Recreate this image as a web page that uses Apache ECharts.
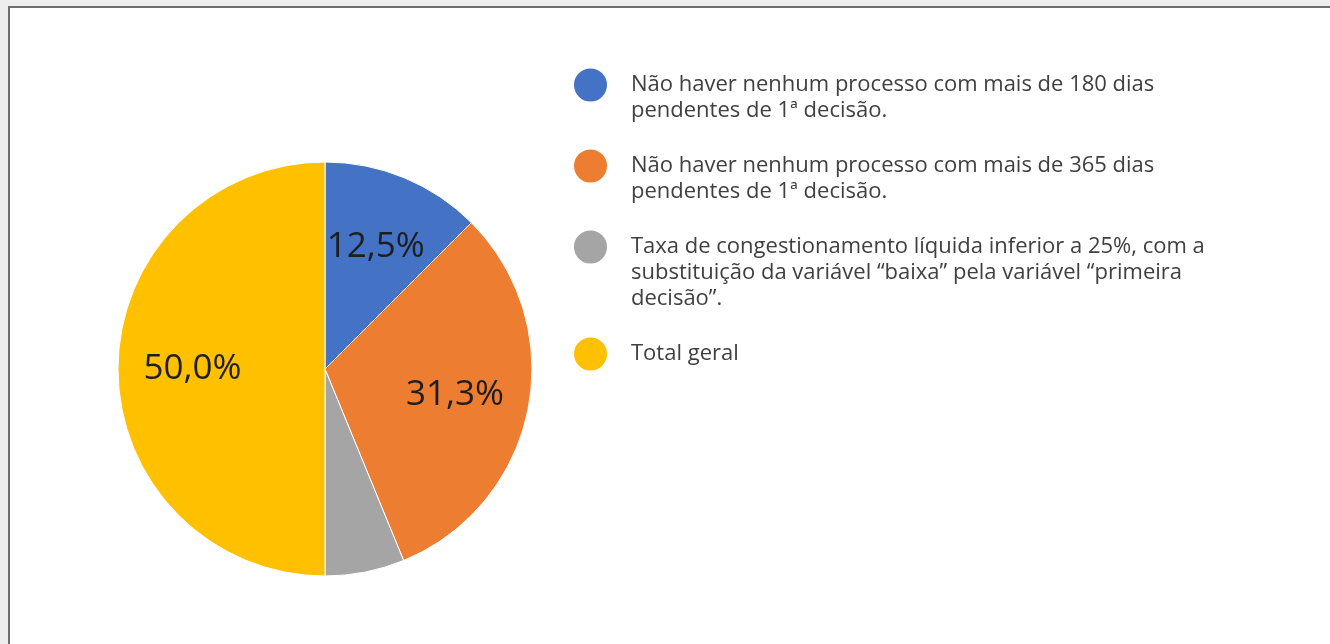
<!DOCTYPE html>
<html>
<head>
<meta charset="utf-8">
<script src="https://cdn.jsdelivr.net/npm/echarts@6/dist/echarts.min.js"></script>
<style>
  html, body { margin: 0; padding: 0; background: #eeeeee; overflow: hidden; }
  #frame { position: absolute; left: 8px; top: 6px; right: 0; bottom: 0; background: #fff;
           border-left: 2px solid #6e6e6e; border-top: 2px solid #6e6e6e; }
  #chart { position: absolute; left: 0; top: 0; width: 1330px; height: 644px; }
</style>
</head>
<body>
<div id="frame"></div>
<div id="chart"></div>
<script>
var chart = echarts.init(document.getElementById('chart'));

// data
const categories = [
  'Não haver nenhum processo com mais de 180 dias\npendentes de 1ª decisão.',
  'Não haver nenhum processo com mais de 365 dias\npendentes de 1ª decisão.',
  'Taxa de congestionamento líquida inferior a 25%, com a\nsubstituição da variável “baixa” pela variável “primeira\ndecisão”.',
  'Total geral'
];
const shares = [12.5, 31.3, 6.2, 50.0];
const showLabel = [true, true, false, true];
const colors = ['#4472C4', '#ED7D31', '#A5A5A5', '#FFC000'];

// blank lines above / below each legend text so the dot sits on its first line
const legendBlank = [[2, 1], [1, 0], [2, 0], [2, 2]];

var fontFam = '"Open Sans", sans-serif';

var sliceData = categories.map(function (name, i) {
  return { name: name, value: shares[i], itemStyle: { color: colors[i] } };
});

var labelData = categories.map(function (name, i) {
  return { name: name, value: shares[i], label: { show: showLabel[i] } };
});

var option = {
  animation: false,
  legend: {
    type: 'plain',
    orient: 'vertical',
    left: 572,
    top: 20,
    padding: 0,
    itemGap: -23,
    itemWidth: 35,
    itemHeight: 35,
    icon: 'circle',
    selectedMode: false,
    formatter: function (name) {
      var b = legendBlank[categories.indexOf(name)];
      return '\n'.repeat(b[0]) + name + '\n'.repeat(b[1]);
    },
    textStyle: {
      fontFamily: fontFam, fontSize: 22, lineHeight: 26, color: '#404040',
      padding: [0, 0, 0, 18], backgroundColor: 'rgba(0,0,0,0)'
    },
    data: categories
  },
  series: [
    {
      type: 'pie',
      center: [325, 369],
      radius: 207,
      startAngle: 90,
      clockwise: true,
      silent: true,
      itemStyle: { borderColor: '#fff', borderWidth: 1 },
      label: { show: false },
      labelLine: { show: false },
      data: sliceData
    },
    {
      // transparent ring that only carries the percentage labels
      type: 'pie',
      center: [325, 369],
      radius: [52, 207],
      startAngle: 90,
      clockwise: true,
      silent: true,
      itemStyle: { color: 'rgba(0,0,0,0)' },
      label: {
        show: true,
        position: 'inside',
        fontFamily: fontFam,
        fontSize: 35,
        color: '#1e1e1e',
        formatter: function (p) {
          return p.percent.toFixed(1).replace('.', ',') + '%';
        }
      },
      labelLine: { show: false },
      data: labelData
    }
  ]
};

chart.setOption(option);
</script>
</body>
</html>
